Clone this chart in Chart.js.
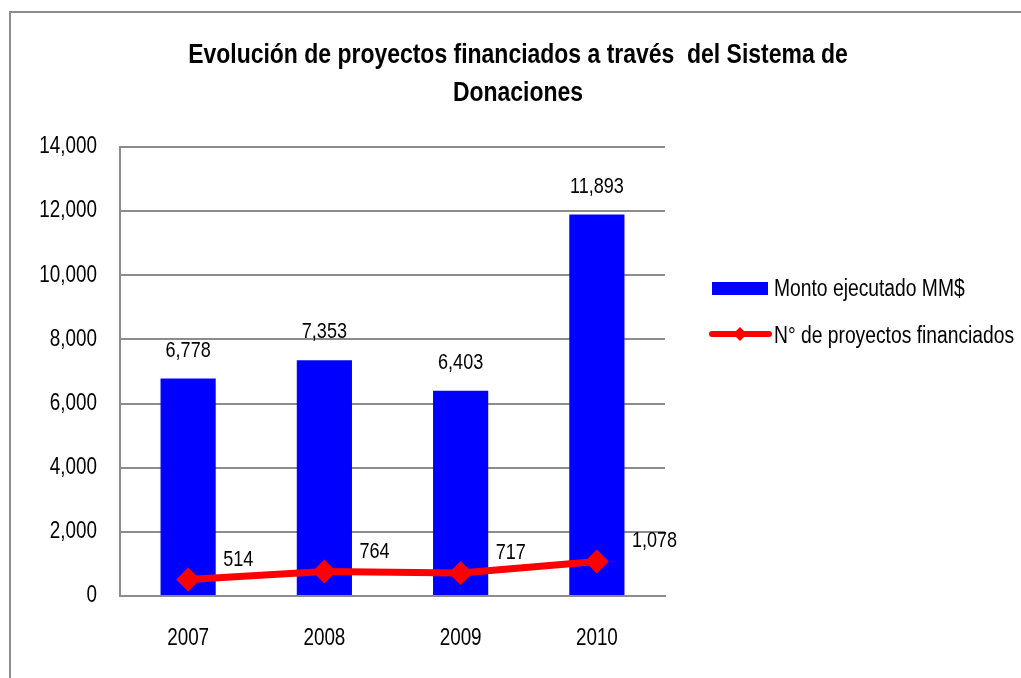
<!DOCTYPE html>
<html>
<head>
<meta charset="utf-8">
<script src="https://cdn.jsdelivr.net/npm/chart.js@4/dist/chart.umd.min.js"></script>
<style>
  html, body { margin: 0; padding: 0; background: #fff; }
  #wrap { position: relative; width: 1021px; height: 678px; overflow: hidden; }
  #frame { position: absolute; left: 9px; top: 11px; width: 1100px; height: 800px;
           border-left: 2px solid #8c8c8c; border-top: 2px solid #8c8c8c; pointer-events: none; }
  canvas { position: absolute; left: 0; top: 0; }
</style>
</head>
<body>
<div id="wrap">
  <canvas id="c" width="1021" height="678"></canvas>
  <div id="frame"></div>
</div>
<script>
const categories = ['2007', '2008', '2009', '2010'];
const montoEjecutado = [6778, 7353, 6403, 11893];
const proyectosFinanciados = [514, 764, 717, 1078];
const yTicks = [0, 2000, 4000, 6000, 8000, 10000, 12000, 14000];
const titleLines = ['Evolución de proyectos financiados a través  del Sistema de', 'Donaciones'];
const seriesNames = ['Monto ejecutado MM$', 'N° de proyectos financiados'];

const FONT = "'Liberation Sans', Arial, sans-serif";
const SQUEEZE = 0.82; // narrow look
const fmt = v => Number(v).toLocaleString('en-US');

function narrowText(ctx, txt, x, y, align, font, baseline) {
  ctx.save();
  ctx.translate(x, y);
  ctx.scale(SQUEEZE, 1);
  ctx.font = font;
  ctx.textAlign = align;
  ctx.textBaseline = baseline || 'middle';
  ctx.fillStyle = '#000';
  ctx.fillText(txt, 0, 0);
  ctx.restore();
}

const titlePlugin = {
  id: 'customTitle',
  afterDraw(chart) {
    const ctx = chart.ctx;
    narrowText(ctx, titleLines[0], 518, 63, 'center', "bold 28px " + FONT, 'alphabetic');
    narrowText(ctx, titleLines[1], 518, 101, 'center', "bold 28px " + FONT, 'alphabetic');
  }
};

const axisTextPlugin = {
  id: 'axisText',
  afterDraw(chart) {
    const ctx = chart.ctx;
    const ys = chart.scales.y, xs = chart.scales.x;
    ys.ticks.forEach(t => {
      narrowText(ctx, fmt(t.value), ys.right - 23, ys.getPixelForValue(t.value), 'right', "23px " + FONT);
    });
    categories.forEach((c, i) => {
      narrowText(ctx, c, xs.getPixelForValue(i), xs.top + 43, 'center', "23px " + FONT);
    });
  }
};

const labelsPlugin = {
  id: 'valueLabels',
  afterDatasetsDraw(chart) {
    const ctx = chart.ctx;
    chart.data.datasets.forEach((ds, i) => {
      const meta = chart.getDatasetMeta(i);
      meta.data.forEach((el, j) => {
        const txt = fmt(ds.data[j]);
        if (ds.type === 'bar') {
          narrowText(ctx, txt, el.x, el.y - 28, 'center', "22px " + FONT);
        } else {
          narrowText(ctx, txt, el.x + 35, el.y - 20, 'left', "22px " + FONT);
        }
      });
    });
  }
};

const legendPlugin = {
  id: 'customLegend',
  afterDraw(chart) {
    const ctx = chart.ctx;
    const bar = chart.data.datasets.find(d => d.type === 'bar');
    const line = chart.data.datasets.find(d => d.type === 'line');
    ctx.save();
    ctx.fillStyle = bar.backgroundColor;
    ctx.fillRect(712, 282, 56, 13);
    ctx.strokeStyle = line.borderColor;
    ctx.lineWidth = 6;
    ctx.lineCap = 'round';
    ctx.beginPath();
    ctx.moveTo(712, 334);
    ctx.lineTo(769, 334);
    ctx.stroke();
    ctx.fillStyle = line.borderColor;
    ctx.beginPath();
    ctx.moveTo(740, 327); ctx.lineTo(747, 334); ctx.lineTo(740, 341); ctx.lineTo(733, 334);
    ctx.closePath(); ctx.fill();
    ctx.restore();
    narrowText(ctx, bar.label, 774, 290, 'left', "23.5px " + FONT);
    narrowText(ctx, line.label, 774, 337, 'left', "23.5px " + FONT);
  }
};

new Chart(document.getElementById('c'), {
  data: {
    labels: categories,
    datasets: [
      {
        type: 'line',
        label: seriesNames[1],
        data: proyectosFinanciados,
        borderColor: '#FF0000',
        backgroundColor: '#FF0000',
        borderWidth: 7,
        pointStyle: 'rectRot',
        pointRadius: 12,
        pointHoverRadius: 12,
        pointBorderWidth: 0,
        tension: 0,
        order: 0
      },
      {
        type: 'bar',
        label: seriesNames[0],
        data: montoEjecutado,
        backgroundColor: '#0000FF',
        borderWidth: 0,
        categoryPercentage: 0.5,
        barPercentage: 0.81,
        order: 1
      }
    ]
  },
  options: {
    responsive: false,
    animation: false,
    layout: { padding: { left: 0, right: 356, top: 147, bottom: 0 } },
    plugins: {
      legend: { display: false },
      title: { display: false },
      tooltip: { enabled: false }
    },
    scales: {
      x: {
        offset: true,
        grid: { display: false, drawTicks: false },
        border: { display: true, color: '#8c8c8c', width: 2 },
        ticks: { display: false },
        afterFit(scale) { scale.height = 82; }
      },
      y: {
        min: 0,
        max: 14000,
        afterBuildTicks(scale) { scale.ticks = yTicks.map(v => ({ value: v })); },
        grid: { color: '#8c8c8c', lineWidth: 2, drawTicks: false },
        border: { display: true, color: '#8c8c8c', width: 2 },
        ticks: { display: false },
        afterFit(scale) { scale.width = 120; }
      }
    }
  },
  plugins: [titlePlugin, axisTextPlugin, labelsPlugin, legendPlugin]
});
</script>
</body>
</html>
